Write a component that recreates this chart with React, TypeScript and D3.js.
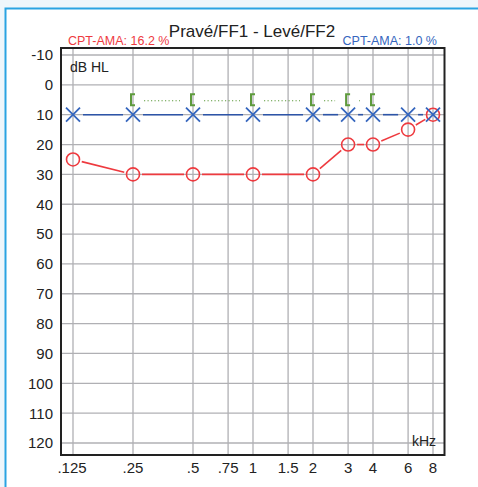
import * as d3 from 'd3';
import React, { useEffect, useRef } from 'react';

const freqs = [0.125, 0.25, 0.5, 0.75, 1, 1.5, 2, 3, 4, 6, 8];
const freqLabels = ['.125', '.25', '.5', '.75', '1', '1.5', '2', '3', '4', '6', '8'];
const dbTicks = [-10, 0, 10, 20, 30, 40, 50, 60, 70, 80, 90, 100, 110, 120];

// Levé (blue X)
const leftFreqs = [0.125, 0.25, 0.5, 1, 2, 3, 4, 6, 8];
const leftDb = [10, 10, 10, 10, 10, 10, 10, 10, 10];
// Pravé (red O)
const rightFreqs = [0.125, 0.25, 0.5, 1, 2, 3, 4, 6, 8];
const rightDb = [25, 30, 30, 30, 30, 20, 20, 15, 10];
// bone / masking brackets (green)
const boneFreqs = [0.25, 0.5, 1, 2, 3, 4];
const boneDb = [5, 5, 5, 5, 5, 5];

const RED = '#ee3a3f';
const BLUE = '#3566be';
const LINE_BLUE = '#2d55a8';
const GREEN = '#5e9a3c';

function App() {
    const ref = useRef<SVGSVGElement>(null);

    useEffect(() => {
        const svg = d3.select(ref.current);
        svg.selectAll('*').remove();

        const x = d3.scaleLog().base(2).domain([0.125, 8]).range([73, 433]);
        const y = d3.scaleLinear().domain([-10, 120]).range([55, 443]);
        const plot = { left: 61, right: 444.5, top: 48, bottom: 455 };

        // page background + frame
        svg.append('rect').attr('width', 478).attr('height', 487).attr('fill', '#eef6fb');
        svg.append('rect')
            .attr('x', 5.5).attr('y', 8.5).attr('width', 490).attr('height', 500)
            .attr('fill', '#fff').attr('stroke', '#2aa3e2').attr('stroke-width', 2);

        // grid
        const grid = svg.append('g').attr('stroke', '#b0b0b4').attr('stroke-width', 1.3);
        grid.selectAll('line.h').data(dbTicks).join('line')
            .attr('class', 'h')
            .attr('x1', plot.left).attr('x2', plot.right)
            .attr('y1', d => y(d)).attr('y2', d => y(d));
        grid.selectAll('line.v').data(freqs).join('line')
            .attr('class', 'v')
            .attr('x1', d => x(d)).attr('x2', d => x(d))
            .attr('y1', plot.top).attr('y2', plot.bottom);

        svg.append('rect')
            .attr('x', plot.left).attr('y', plot.top)
            .attr('width', plot.right - plot.left).attr('height', plot.bottom - plot.top)
            .attr('fill', 'none').attr('stroke', '#222').attr('stroke-width', 2);

        // tick labels
        const font = 'Liberation Sans, Arial, sans-serif';
        svg.append('g').selectAll('text').data(dbTicks).join('text')
            .attr('x', 53).attr('y', d => y(d)).attr('dy', '0.36em')
            .attr('text-anchor', 'end').attr('font-family', font).attr('font-size', 15)
            .attr('fill', '#222').text(d => d);
        svg.append('g').selectAll('text').data(freqs).join('text')
            .attr('x', (d, i) => x(d) + (i === 0 ? -1 : 0)).attr('y', 473)
            .attr('text-anchor', 'middle').attr('font-family', font).attr('font-size', 15)
            .attr('fill', '#222').text((d, i) => freqLabels[i]);

        svg.append('text').attr('x', 70).attr('y', 72).attr('font-family', font)
            .attr('font-size', 14).attr('fill', '#222').text('dB HL');
        svg.append('text').attr('x', 436).attr('y', 446).attr('text-anchor', 'end')
            .attr('font-family', font).attr('font-size', 14).attr('fill', '#222').text('kHz');

        // titles
        svg.append('text').attr('x', 252).attr('y', 37).attr('text-anchor', 'middle')
            .attr('font-family', font).attr('font-size', 17).attr('fill', '#222')
            .text('Pravé/FF1 - Levé/FF2');
        svg.append('text').attr('x', 68).attr('y', 45)
            .attr('font-family', font).attr('font-size', 12.5).attr('fill', RED)
            .text('CPT-AMA: 16.2 %');
        svg.append('text').attr('x', 437).attr('y', 45).attr('text-anchor', 'end')
            .attr('font-family', font).attr('font-size', 12.5).attr('fill', BLUE)
            .text('CPT-AMA: 1.0 %');

        // connecting segments with gaps around markers
        const gapLines = (fs: number[], vs: number[], gap: number, color: string) => {
            const pts = fs.map((f, i) => [x(f), y(vs[i])]);
            const segs = d3.pairs(pts).map(([a, b]) => {
                const dx = b[0] - a[0], dy = b[1] - a[1];
                const len = Math.hypot(dx, dy);
                const ux = dx / len, uy = dy / len;
                return [a[0] + ux * gap, a[1] + uy * gap, b[0] - ux * gap, b[1] - uy * gap];
            }).filter(s => (s[2] - s[0]) > 0);
            svg.append('g').selectAll('line').data(segs).join('line')
                .attr('x1', d => d[0]).attr('y1', d => d[1])
                .attr('x2', d => d[2]).attr('y2', d => d[3])
                .attr('stroke', color).attr('stroke-width', 1.6);
        };

        gapLines(leftFreqs, leftDb, 10, LINE_BLUE);
        gapLines(rightFreqs, rightDb, 9, RED);

        // green brackets with dotted links
        const bx = (f: number) => x(f) - 2;
        const links = d3.pairs(boneFreqs.map((f, i) => [f, boneDb[i]]))
            .map(([a, b]) => [bx(a[0]) + 13, y(a[1]) + 1, bx(b[0]) - 11, y(b[1]) + 1])
            .filter(s => s[2] > s[0]);
        svg.append('g').selectAll('line').data(links).join('line')
            .attr('x1', d => d[0]).attr('x2', d => d[2])
            .attr('y1', d => d[1]).attr('y2', d => d[3])
            .attr('stroke', GREEN).attr('stroke-width', 1.2).attr('stroke-dasharray', '1.2 2.3');
        svg.append('g').selectAll('path').data(boneFreqs).join('path')
            .attr('d', (f, i) => {
                const cx = bx(f), cy = y(boneDb[i]);
                return `M${cx + 4},${cy - 5.5} H${cx} V${cy + 5.5} H${cx + 4}`;
            })
            .attr('fill', 'none').attr('stroke', GREEN).attr('stroke-width', 2);

        // red circles
        svg.append('g').selectAll('circle').data(rightFreqs).join('circle')
            .attr('cx', d => x(d)).attr('cy', (d, i) => y(rightDb[i])).attr('r', 6.5)
            .attr('fill', 'none').attr('stroke', RED).attr('stroke-width', 1.6);

        // blue crosses
        const s = 7;
        svg.append('g').selectAll('path').data(leftFreqs).join('path')
            .attr('d', (f, i) => {
                const cx = x(f), cy = y(leftDb[i]);
                return `M${cx - s},${cy - s} L${cx + s},${cy + s} M${cx - s},${cy + s} L${cx + s},${cy - s}`;
            })
            .attr('fill', 'none').attr('stroke', BLUE).attr('stroke-width', 1.8);
    }, []);

    return (
        <svg ref={ref} width={478} height={487}
            style={{ position: 'absolute', left: 0, top: 0, display: 'block' }} />
    );
}

export default App;
